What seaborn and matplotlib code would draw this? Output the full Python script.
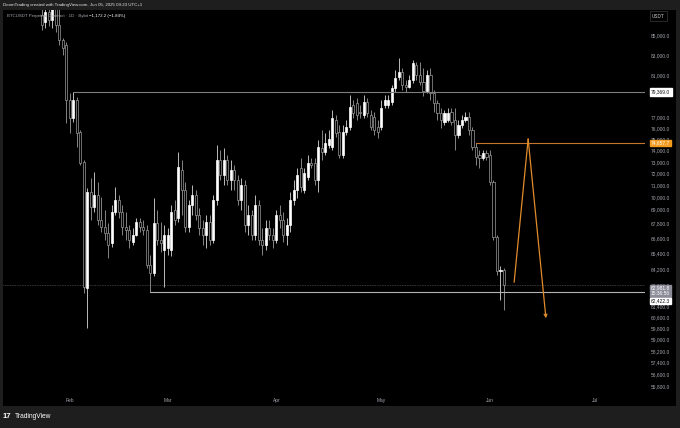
import numpy as np
import pandas as pd
import seaborn as sns
import matplotlib
matplotlib.use("Agg")
from matplotlib import pyplot as plt
import matplotlib.dates as mdates
import matplotlib.transforms as mtransforms
from matplotlib.patches import Rectangle
from matplotlib.ticker import FuncFormatter, NullLocator, NullFormatter

# daily candles, BTCUSDT 1D, from 2025-01-24 to 2025-06-05
start = "2025-01-24"
opens = [87070, 86330, 87380, 86540, 87800, 86030, 84490, 83990, 78630, 76950,
         78630, 75670, 73000, 62760, 70410, 69160, 70160, 68090, 67520, 67040,
         66240, 68750, 69740, 68750, 67520, 67280, 66320, 66880, 67930, 67520,
         67280, 64520, 63900, 67850, 66480, 65690, 65850, 65690, 68910, 68250,
         72300, 70580, 67520, 69320, 70160, 68500, 67440, 66880, 67930, 66480,
         69740, 73170, 71870, 73170, 71440, 72300, 71440, 69740, 71010, 67690,
         68500, 66880, 69320, 66480, 66080, 67440, 66880, 66480, 68500, 68090,
         66880, 67690, 69740, 70580, 72480, 70580, 71700, 72910, 72910, 71440,
         74230, 73870, 74500, 74320, 76760, 75670, 73610, 75670, 76120, 78160,
         78350, 77500, 77230, 78440, 77230, 77040, 76120, 76120, 78160, 78160,
         78440, 79770, 80820, 81310, 80060, 79870, 80530, 82000, 81020, 80340,
         79490, 81020, 79290, 78350, 77410, 76580, 76760, 77500, 76760, 75400,
         76300, 76760, 77040, 75850, 74320, 73610, 73350, 73790, 73610, 71270,
         66720, 64050, 64154]
highs = [88110, 88110, 88330, 88650, 88650, 88110, 84690, 84290, 79300, 79369,
         78910, 75850, 73170, 70750, 71610, 72130, 71270, 69990, 68910, 67850,
         69320, 70840, 70160, 69320, 68750, 67690, 67440, 68250, 68250, 68090,
         67690, 65290, 69910, 68910, 67930, 67690, 67440, 69320, 69740, 73870,
         73170, 71270, 69740, 71010, 70580, 69080, 68090, 68500, 68500, 70160,
         74500, 74050, 74230, 73610, 73170, 72740, 71870, 71610, 71440, 69320,
         68910, 70160, 69740, 67440, 68090, 68090, 67440, 68910, 69320, 68750,
         68250, 70410, 71440, 72480, 73350, 72480, 73610, 73350, 73350, 74950,
         75850, 75580, 75850, 77690, 77230, 76300, 76300, 76760, 79100, 78630,
         78820, 78160, 79100, 78820, 77690, 77500, 76760, 78630, 79100, 79100,
         80060, 81510, 82690, 81710, 80530, 81020, 82490, 82290, 82290, 81710,
         81510, 81710, 79580, 78630, 77880, 77690, 77880, 77880, 77880, 76760,
         77230, 77500, 77500, 76120, 74657.7, 74050, 74050, 74050, 74050, 71440,
         66880, 64400, 64300]
lows = [85510, 85720, 85920, 85720, 85310, 83990, 82990, 76490, 75580, 76580,
        74320, 72740, 62390, 59820, 68090, 68750, 67690, 67120, 66480, 65060,
        65920, 68500, 68250, 66880, 66480, 65850, 66080, 66800, 67120, 66880,
        64290, 62422.3, 63670, 66080, 65530, 62840, 65290, 65210, 67690, 67930,
        68500, 67120, 67120, 68500, 68090, 66880, 66080, 65850, 66080, 66240,
        69320, 71440, 71010, 71010, 70580, 70580, 69320, 68910, 67120, 66880,
        66480, 66480, 66080, 65290, 65690, 66480, 65850, 66240, 67440, 66320,
        66080, 67120, 69320, 69910, 70410, 70330, 71440, 72480, 71010, 70410,
        73170, 73610, 74230, 74050, 75220, 73350, 73350, 75400, 75850, 76950,
        76760, 76950, 76950, 77040, 75850, 75400, 75130, 75850, 77880, 77880,
        78160, 79390, 80530, 79580, 79390, 79770, 80240, 80530, 80060, 79010,
        79290, 78630, 77500, 76760, 76030, 76300, 76580, 76300, 74050, 75130,
        76030, 76580, 75400, 74050, 72740, 72480, 73170, 73170, 71010, 66480,
        63750, 61860, 61130]
closes = [86030, 87380, 86540, 87800, 86030, 84490, 83690, 78630, 76950, 78630,
          75580, 72910, 62840, 70410, 69160, 70160, 68090, 67520, 67040, 66080,
          68750, 69740, 68750, 67520, 67280, 66480, 66880, 67930, 67520, 67280,
          64520, 63900, 67850, 66480, 66240, 66880, 66880, 68750, 68090, 72560,
          70580, 67520, 69320, 70160, 68500, 67440, 66880, 67930, 66480, 69740,
          73170, 71870, 73170, 71440, 72300, 71440, 69740, 71010, 67690, 68500,
          66880, 69320, 66480, 66080, 67440, 66880, 66480, 68500, 68090, 66880,
          67690, 69740, 70580, 71870, 70840, 72040, 72910, 72740, 71440, 74320,
          73870, 74680, 75040, 76950, 75580, 73610, 75670, 76120, 77970, 77410,
          77230, 77410, 78440, 77410, 76120, 75850, 75670, 77880, 78630, 78630,
          79770, 80730, 81310, 80060, 79870, 80530, 82200, 81020, 80340, 79490,
          81020, 79290, 78350, 77410, 76760, 77410, 77410, 76580, 75400, 76300,
          76760, 77040, 75850, 74320, 73440, 73350, 73790, 73440, 71270, 66720,
          64050, 64154, 62981.8]

# drawn levels (price, first day)
level_prices = [79369.0, 74657.7, 62422.3]
level_starts = ["2025-02-02", "2025-05-28", "2025-02-24"]
level_colors = ["#7d7d7d", "#c8742a", "#b4b4b4"]
last_price = 62981.8
countdown = "15:36:56"

# projected path (orange arrow)
arrow_dates = ["2025-06-07 22:00", "2025-06-11 22:00", "2025-06-17 00:00"]
arrow_prices = [63190, 75040, 60520]

price_ticks = [85000, 83000, 81000, 77000, 76000, 75000, 74000, 73000, 72000,
               71000, 70000, 69000, 67800, 66600, 65400, 64200, 63000, 61400,
               60600, 59800, 59000, 58200, 57400, 56600, 55800]
month_ticks = ["2025-02-01", "2025-03-01", "2025-04-01", "2025-05-01", "2025-06-01", "2025-07-01"]
month_labels = ["Feb", "Mar", "Apr", "May", "Jun", "Jul"]

sns.set_style("dark", {"axes.facecolor": "#000000", "figure.facecolor": "#1e1e1e",
                       "grid.color": "#000000", "axes.edgecolor": "#000000"})
plt.rcParams['font.family'] = ['Liberation Sans', 'DejaVu Sans']

df = pd.DataFrame({"date": pd.date_range(start, periods=len(opens), freq="D"),
                   "open": opens, "high": highs, "low": lows, "close": closes})
up = (df["close"] >= df["open"]).values

fig = plt.figure(figsize=(6.8, 4.28), dpi=100)
fig.add_artist(Rectangle((3 / 680, 22 / 428), 673 / 680, 396 / 428, transform=fig.transFigure,
                         facecolor="#000000", edgecolor="none", zorder=0))
ax = fig.add_axes([3 / 680, 35 / 428, 642 / 680, 383 / 428])
ax.set_yscale("log")

feb1 = pd.Timestamp("2025-02-01")
x0 = feb1 - pd.Timedelta(days=19.1)
x1 = feb1 + pd.Timedelta(days=164.3)

ax.axhline(last_price, color="#4d4d4d", lw=0.6, ls=(0, (1, 1)), zorder=1)

ax.vlines(df["date"], df["low"], df["high"], colors=np.where(up, "#d8d8d8", "#9a9a9a"),
          lw=0.6, zorder=2)
ax.bar(df["date"], (df["close"] - df["open"]).abs(), bottom=df[["open", "close"]].min(axis=1),
       width=0.62, color=np.where(up, "#ffffff", "#000000"),
       edgecolor=np.where(up, "#ffffff", "#9a9a9a"), linewidth=0.5, zorder=3)

for p, s, c in zip(level_prices, level_starts, level_colors):
    sns.lineplot(x=[pd.Timestamp(s), x1], y=[p, p], ax=ax, color=c, lw=0.8, zorder=4)

orange = "#e08b2c"
ad = pd.to_datetime(arrow_dates)
sns.lineplot(x=ad[:2], y=arrow_prices[:2], ax=ax, color=orange, lw=0.9, sort=False,
             estimator=None, zorder=5)
ax.annotate("", xy=(mdates.date2num(ad[2]), arrow_prices[2]),
            xytext=(mdates.date2num(ad[1]), arrow_prices[1]),
            arrowprops=dict(arrowstyle="->", color=orange, lw=0.9, shrinkA=0, shrinkB=0,
                            mutation_scale=5), zorder=5)

ax.set_xlim(x0, x1)
ax.set_ylim(55333, 87590)
ax.set_xlabel("")
ax.set_ylabel("")
ax.grid(False)
for sp in ax.spines.values():
    sp.set_visible(False)

ax.yaxis.tick_right()
ax.set_yticks(price_ticks)
ax.yaxis.set_major_formatter(FuncFormatter(lambda v, pos: f"{v:,.1f}"))
ax.yaxis.set_minor_locator(NullLocator())
ax.yaxis.set_minor_formatter(NullFormatter())
ax.set_xticks(pd.to_datetime(month_ticks))
ax.set_xticklabels(month_labels)
ax.tick_params(axis="y", length=0, pad=4.3, labelsize=3.5, colors="#a3a6ae")
ax.tick_params(axis="x", length=0, pad=3.5, labelsize=3.5, colors="#a3a6ae")

blend = mtransforms.blended_transform_factory(ax.transAxes, ax.transData)


def price_tag(p, text, fc, tc, dy=0, pad=0.3):
    ax.annotate(text, xy=(1.0093, p), xycoords=blend, xytext=(0, dy), textcoords="offset points",
                fontsize=3.5, color=tc, va="center", ha="left", annotation_clip=False,
                bbox=dict(boxstyle=f"square,pad={pad}", fc=fc, ec=fc), zorder=6)


price_tag(level_prices[0], f"{level_prices[0]:,.1f}", "#ffffff", "#131313")
price_tag(level_prices[1], f"{level_prices[1]:,.1f}", "#f39b1f", "#ffffff", pad=0.15)
price_tag(last_price, f"{last_price:,.1f}\n{countdown}", "#8c8c98", "#ffffff", dy=-4.2, pad=0.15)
price_tag(level_prices[2], f"{level_prices[2]:,.1f}", "#ffffff", "#131313", dy=-6.0, pad=0.15)

fig.text(652 / 680, 1 - 16 / 428, "USDT", fontsize=3.3, color="#d0d0d0", va="center", ha="left",
         bbox=dict(boxstyle="square,pad=0.5", fc="#000000", ec="#3a3a3a", lw=0.5))

fig.text(3 / 680, 1 - 5 / 428, "DoomTrading created with TradingView.com, Jun 05, 2025 09:23 UTC+1",
         fontsize=3.2, color="#e6e6e6", va="center", ha="left")
fig.text(7 / 680, 1 - 16 / 428, "BTCUSDT Perpetual Contract · 1D · Bybit",
         fontsize=3.2, color="#a3a6ae", va="center", ha="left")
fig.text(89 / 680, 1 - 16 / 428, "\u22121,172.2 (\u22121.84%)",
         fontsize=3.2, color="#ffffff", va="center", ha="left")

fig.text(3 / 680, 1 - 417 / 428, "17", fontsize=5.5, color="#ffffff", va="center", ha="left",
         fontweight="bold")
fig.text(15 / 680, 1 - 417 / 428, "TradingView", fontsize=4.8, color="#ffffff", va="center",
         ha="left")

fig.savefig("out.png", dpi=100, facecolor=fig.get_facecolor())
